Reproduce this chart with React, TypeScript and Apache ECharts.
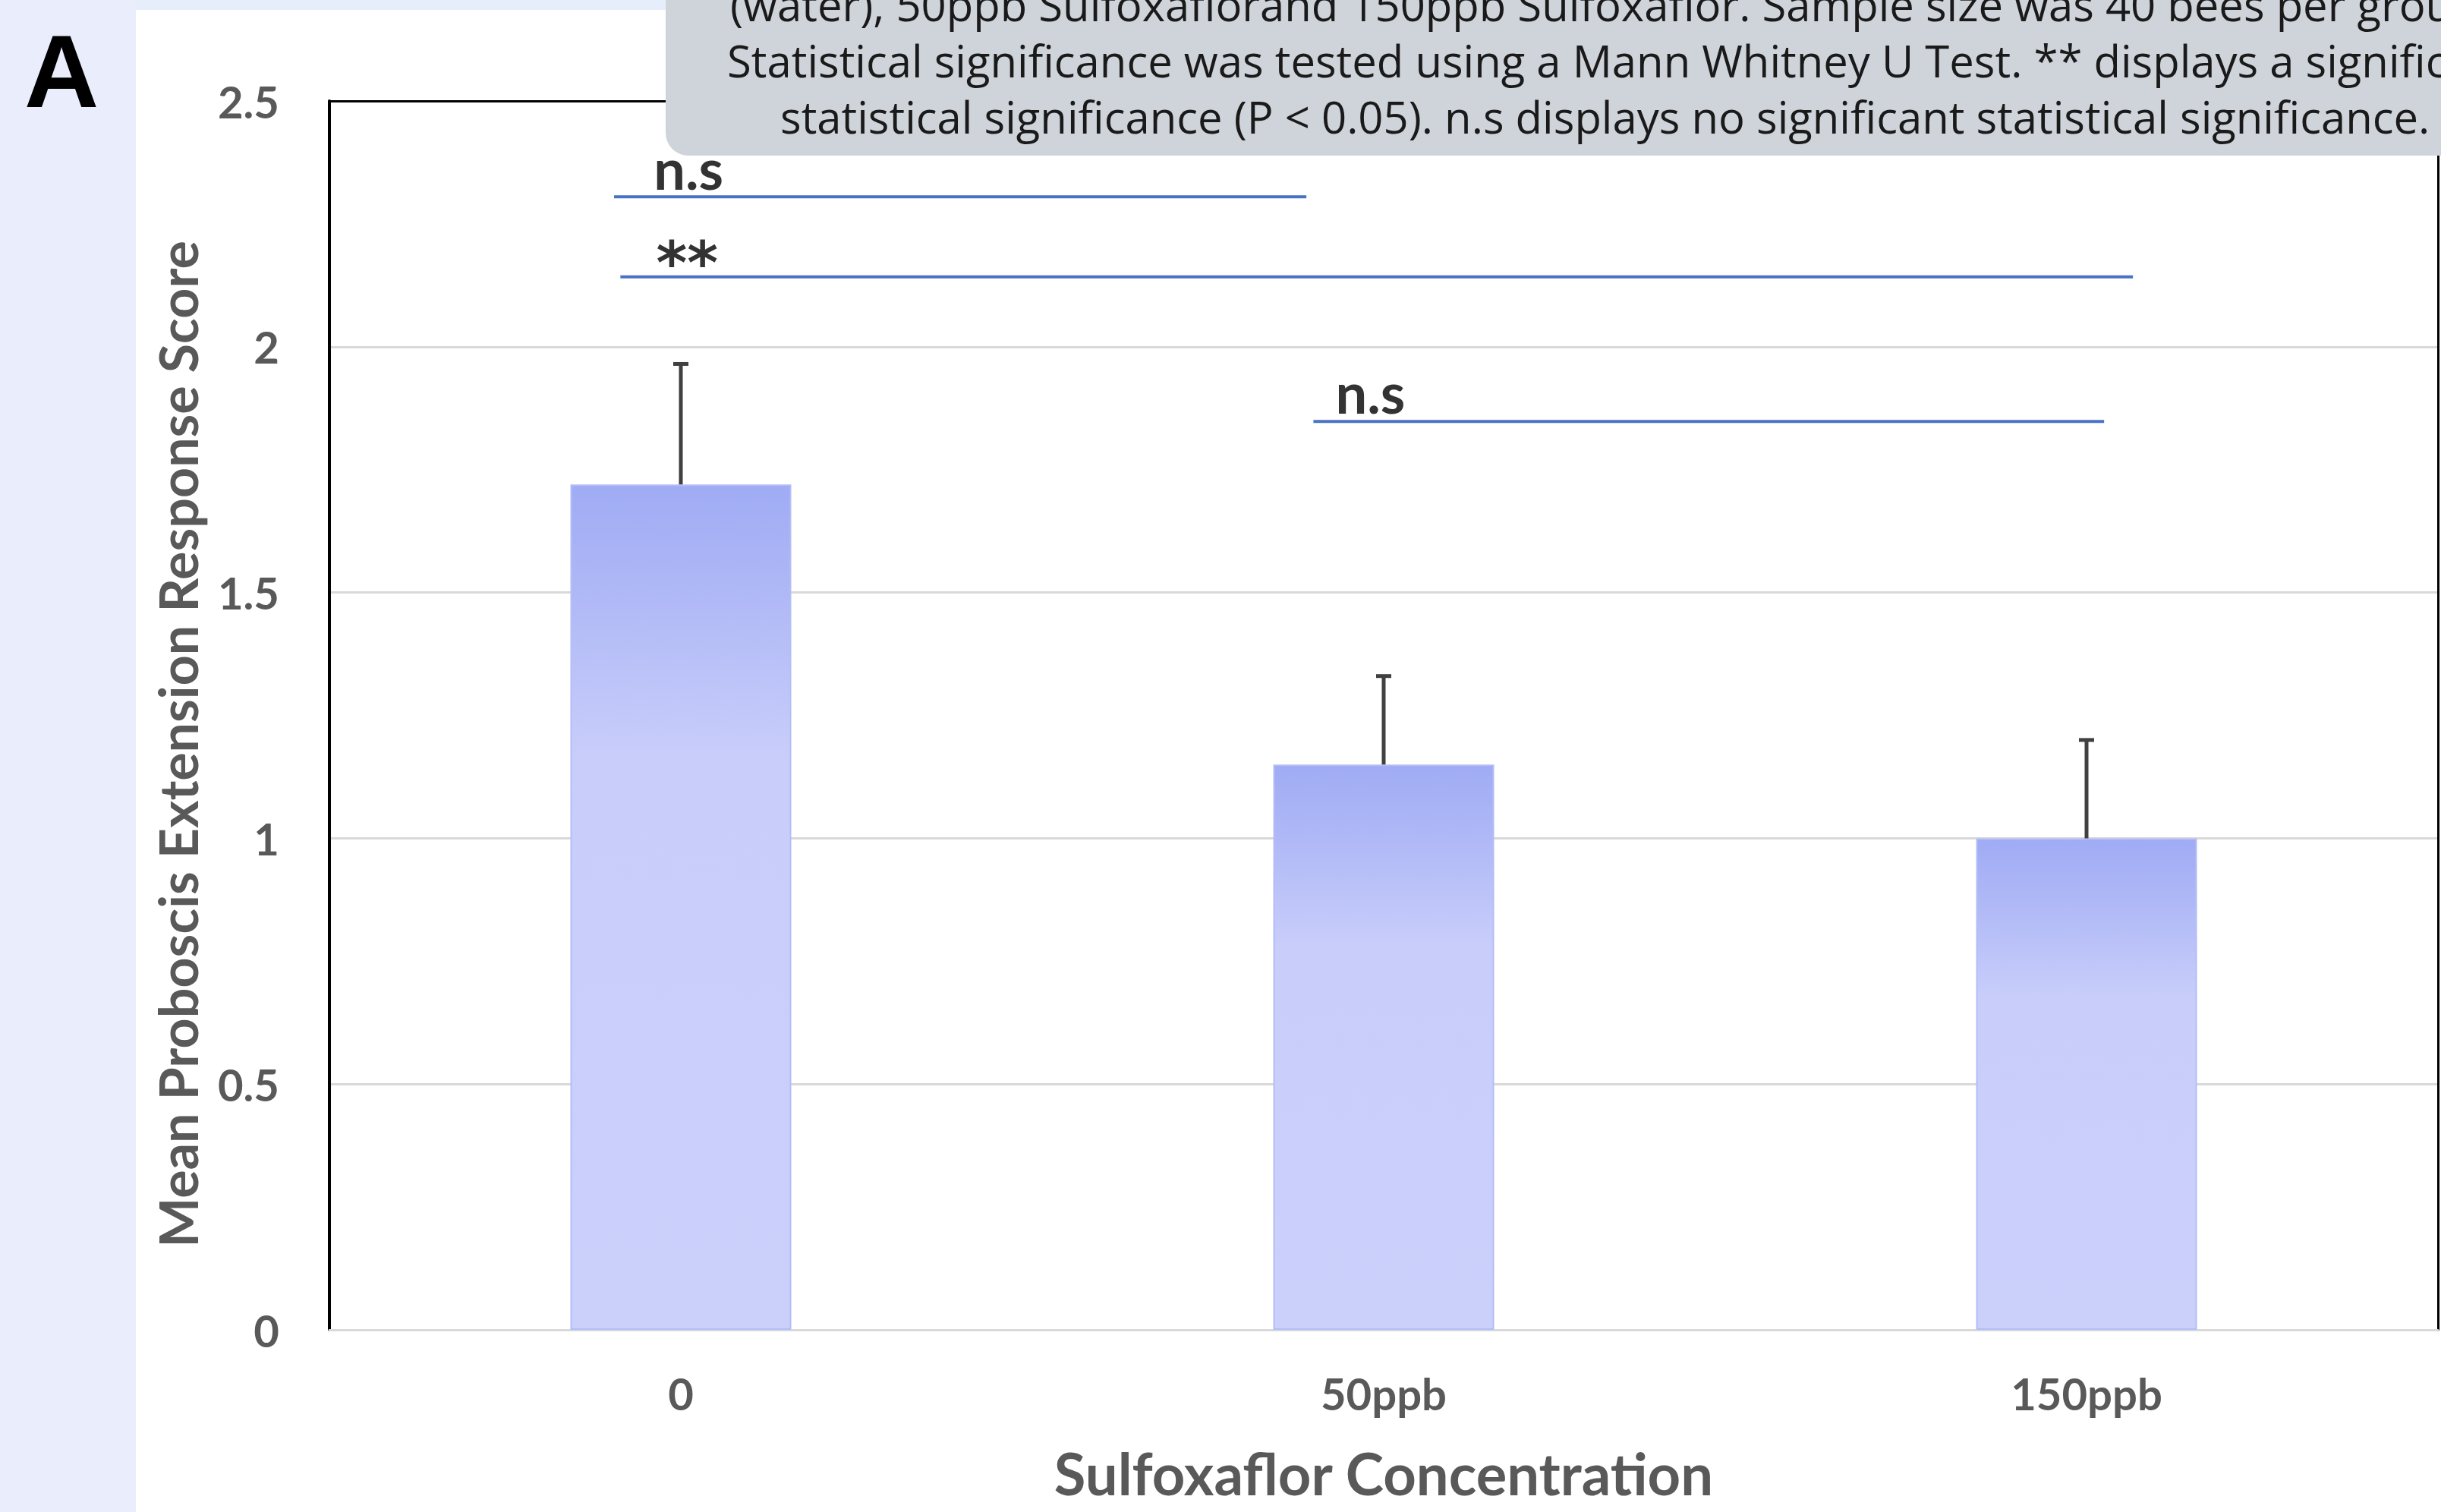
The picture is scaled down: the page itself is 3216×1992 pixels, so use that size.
import React, { useEffect, useRef } from "react";
import * as echarts from "echarts";

const categories = ["0", "50ppb", "150ppb"];
const meanScores = [1.72, 1.15, 1.0];
const errorUpper = [0.245, 0.18, 0.2];
const yTicks = { min: 0, max: 2.5, interval: 0.5 };

// significance brackets: [x, y] end points in category units (0 = first bar centre)
const bracketNS1 = [[-0.095, 2.305], [0.89, 2.305]];
const bracketStars = [[-0.086, 2.142], [2.066, 2.142]];
const bracketNS2 = [[0.9, 1.848], [2.025, 1.848]];
const bracketLabels = [
  { name: "n.s", value: [0.011, 2.363] },
  { name: "**", value: [0.009, 2.17] },
  { name: "n.s", value: [0.981, 1.908] },
];

const captionLines = [
  "(water), 50ppb Sulfoxaflorand 150ppb Sulfoxaflor. Sample size was 40 bees per group.",
  "Statistical significance was tested using a Mann Whitney U Test. ** displays a significant",
  "statistical significance (P < 0.05). n.s displays no significant statistical significance.",
];

const W = 3216;
const H = 1992;
const FONT = "Lato";
const GREY_TXT = "#595959";

export default function App() {
  const ref = useRef<HTMLDivElement>(null);
  useEffect(() => {
    if (!ref.current) return;
    const chart = echarts.init(ref.current, null, { renderer: "svg", width: W, height: H });
    const bracketSeries = [bracketNS1, bracketStars, bracketNS2].map((d) => ({
      type: "line",
      xAxisIndex: 1,
      yAxisIndex: 0,
      data: d,
      symbol: "none",
      silent: true,
      lineStyle: { color: "#4a72c4", width: 4 },
      z: 5,
    }));
    const option: any = {
      animation: false,
      backgroundColor: "#ffffff",
      grid: { left: 434, right: 4, top: 133, bottom: 240, containLabel: false, outerBoundsMode: "none" },
      xAxis: [
        {
          type: "category",
          data: categories,
          position: "bottom",
          axisLine: { show: true, onZero: false, lineStyle: { color: "#d9d9d9", width: 3 } },
          axisTick: { show: false },
          axisLabel: { fontFamily: FONT, fontWeight: "bold", fontSize: 58, color: GREY_TXT, margin: 54 },
          name: "Sulfoxaflor Concentration",
          nameLocation: "middle",
          nameGap: 150,
          nameTextStyle: { fontFamily: FONT, fontWeight: "bold", fontSize: 76, color: GREY_TXT },
          splitLine: { show: false },
        },
        {
          type: "value",
          position: "top",
          min: -0.5,
          max: 2.5,
          axisLine: { show: true, onZero: false, lineStyle: { color: "#000000", width: 3 } },
          axisTick: { show: false },
          axisLabel: { show: false },
          splitLine: { show: false },
        },
      ],
      yAxis: [
        {
          type: "value",
          min: yTicks.min,
          max: yTicks.max,
          interval: yTicks.interval,
          axisLine: { show: true, onZero: false, lineStyle: { color: "#000000", width: 4 } },
          axisTick: { show: false },
          axisLabel: { fontFamily: FONT, fontWeight: "bold", fontSize: 58, color: GREY_TXT, margin: 66 },
          splitLine: { show: true, lineStyle: { color: "#d9d9d9", width: 3 } },
          name: "Mean Proboscis Extension Response Score",
          nameLocation: "middle",
          nameGap: 165,
          nameRotate: 90,
          nameTextStyle: { fontFamily: FONT, fontWeight: "bold", fontSize: 70, color: GREY_TXT, padding: [0, 76, 0, 0] },
        },
        {
          type: "value",
          position: "right",
          min: yTicks.min,
          max: yTicks.max,
          axisLine: { show: true, onZero: false, lineStyle: { color: "#000000", width: 3 } },
          axisTick: { show: false },
          axisLabel: { show: false },
          splitLine: { show: false },
        },
      ],
      series: [
        {
          type: "bar",
          xAxisIndex: 0,
          yAxisIndex: 0,
          data: meanScores,
          barWidth: 291,
          itemStyle: {
            color: new echarts.graphic.LinearGradient(0, 0, 0, 1, [
              { offset: 0, color: "#9fabf4" },
              { offset: 0.32, color: "#c8cdfa" },
              { offset: 1, color: "#cbd0fb" },
            ]),
            borderColor: "#b3bdf7",
            borderWidth: 2,
          },
          z: 2,
        },
        {
          type: "custom",
          xAxisIndex: 0,
          yAxisIndex: 0,
          data: meanScores.map((m, i) => [i, m, m + errorUpper[i]]),
          renderItem: (params: any, api: any) => {
            const base = api.coord([api.value(0), api.value(1)]);
            const top = api.coord([api.value(0), api.value(2)]);
            const style = { stroke: "#404040", lineWidth: 5 };
            return {
              type: "group",
              children: [
                { type: "line", shape: { x1: base[0], y1: base[1], x2: base[0], y2: top[1] }, style },
                { type: "line", shape: { x1: base[0] - 10, y1: top[1], x2: base[0] + 10, y2: top[1] }, style },
              ],
            };
          },
          z: 4,
        },
        ...bracketSeries,
        {
          type: "scatter",
          xAxisIndex: 1,
          yAxisIndex: 0,
          data: bracketLabels.map((d) =>
            d.name === "**"
              ? { ...d, label: { fontFamily: "DejaVu Sans", fontSize: 78 } }
              : d
          ),
          symbolSize: 1,
          itemStyle: { color: "rgba(0,0,0,0)" },
          silent: true,
          label: {
            show: true,
            position: "inside",
            formatter: (p: any) => p.name,
            fontFamily: FONT,
            fontWeight: "bold",
            fontSize: 74,
            color: "#000000",
          },
          z: 6,
        },
      ],
      graphic: [
        { type: "rect", z: -10, silent: true, shape: { x: 0, y: 0, width: 179, height: H }, style: { fill: "#eaedfc" } },
        { type: "rect", z: -10, silent: true, shape: { x: 179, y: 0, width: W - 179, height: 13 }, style: { fill: "#e7eefb" } },
        {
          type: "text",
          z: 50,
          x: 81,
          y: 94,
          style: { text: "A", fontFamily: "Liberation Sans", fontWeight: "bold", fontSize: 136, fill: "#000", textAlign: "center", textVerticalAlign: "middle" },
        },
        {
          type: "rect",
          z: 100,
          silent: true,
          shape: { x: 877, y: -60, width: 2500, height: 265, r: 30 },
          style: { fill: "#cfd4db" },
        },
        ...captionLines.map((t, i) => ({
          type: "text",
          z: 101,
          x: [962, 958, 1028][i],
          y: [5, 79, 153][i],
          style: { text: t, fontFamily: "Open Sans", fontSize: 58, fill: "#1a1a1a", textAlign: "left", textVerticalAlign: "middle" },
        })),
      ],
    };
    chart.setOption(option);
    return () => chart.dispose();
  }, []);
  return <div ref={ref} style={{ position: "fixed", left: 0, top: 0, width: W, height: H }} />;
}
